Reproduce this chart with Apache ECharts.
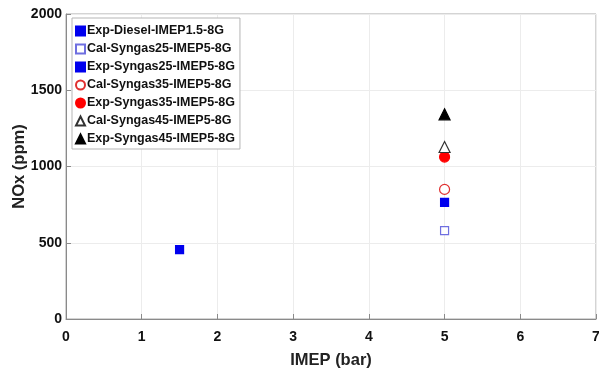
<!DOCTYPE html>
<html>
<head>
<meta charset="utf-8">
<script src="https://cdn.jsdelivr.net/npm/echarts@6/dist/echarts.min.js"></script>
<style>
  html, body { margin: 0; padding: 0; background: #fff; }
  #chart { width: 599px; height: 372px; }
</style>
</head>
<body>
<div id="chart"></div>
<script>
// series names as in the legend
const seriesNames = [
  'Exp-Diesel-IMEP1.5-8G',
  'Cal-Syngas25-IMEP5-8G',
  'Exp-Syngas25-IMEP5-8G',
  'Cal-Syngas35-IMEP5-8G',
  'Exp-Syngas35-IMEP5-8G',
  'Cal-Syngas45-IMEP5-8G',
  'Exp-Syngas45-IMEP5-8G'
];
// IMEP (bar)
const imepValues = [1.5, 5, 5, 5, 5, 5, 5];
// NOx (ppm)
const noxValues = [455, 580, 765, 850, 1062, 1128, 1342];

const xTicks = [0, 1, 2, 3, 4, 5, 6, 7];
const yTicks = [0, 500, 1000, 1500, 2000];

// marker look per series
const markers = [
  { symbol: 'rect', size: 8, fill: '#0000ee', stroke: '#0000ee' },
  { symbol: 'rect', size: 8, fill: '#fff', stroke: '#6f6fe0' },
  { symbol: 'rect', size: 8, fill: '#0000ee', stroke: '#0000ee' },
  { symbol: 'circle', size: 10, fill: '#fff', stroke: '#e03030' },
  { symbol: 'circle', size: 10, fill: '#ff0000', stroke: '#ff0000' },
  { symbol: 'triangle', size: 11, fill: '#fff', stroke: '#333' },
  { symbol: 'triangle', size: 11, fill: '#000', stroke: '#000' }
];

const chart = echarts.init(document.getElementById('chart'));

const font = 'Liberation Sans, Arial';
const axisText = { color: '#111', fontWeight: 'bold', fontSize: 14, fontFamily: font, formatter: v => String(v) };

const option = {
  animation: false,
  grid: {
    left: 66, right: 3, top: 14, bottom: 53,
    outerBoundsMode: 'none',
    show: true, borderColor: '#a8a8a8', borderWidth: 1
  },
  legend: {
    orient: 'vertical',
    left: 72, top: 18,
    data: seriesNames,
    itemWidth: 9, itemHeight: 9,
    itemGap: 4,
    padding: [6, 5, 3, 3],
    backgroundColor: '#fff',
    borderColor: '#b5b5b5', borderWidth: 1,
    textStyle: { color: '#111', fontWeight: 'bold', fontSize: 12.5, lineHeight: 14, padding: [0, 0, 0, -3], fontFamily: font }
  },
  xAxis: {
    type: 'value',
    min: xTicks[0], max: xTicks[xTicks.length - 1], interval: 1,
    name: 'IMEP (bar)', nameLocation: 'middle', nameGap: 33,
    nameMoveOverlap: false,
    nameTextStyle: { color: '#222', fontWeight: 'bold', fontSize: 16.5, fontFamily: font },
    axisLine: { lineStyle: { color: '#8a8a8a' } },
    axisTick: { inside: true, length: 5, lineStyle: { color: '#8a8a8a' } },
    axisLabel: Object.assign({ margin: 11 }, axisText),
    splitLine: { show: true, lineStyle: { color: '#ececec' } }
  },
  yAxis: {
    type: 'value',
    min: yTicks[0], max: yTicks[yTicks.length - 1], interval: 500,
    name: 'NOx (ppm)', nameLocation: 'middle', nameGap: 38,
    nameMoveOverlap: false,
    nameTextStyle: { color: '#222', fontWeight: 'bold', fontSize: 16.5, fontFamily: font },
    axisLine: { show: true, lineStyle: { color: '#8a8a8a' } },
    axisTick: { show: true, inside: true, length: 5, lineStyle: { color: '#8a8a8a' } },
    axisLabel: Object.assign({ margin: 4 }, axisText),
    splitLine: { show: true, lineStyle: { color: '#ececec' } }
  },
  series: seriesNames.map((name, i) => ({
    name: name,
    type: 'scatter',
    symbol: markers[i].symbol,
    symbolSize: markers[i].size,
    itemStyle: { color: markers[i].fill, borderColor: markers[i].stroke, borderWidth: 1.2, opacity: 1 },
    data: [[imepValues[i], noxValues[i]]],
    z: i
  }))
};

chart.setOption(option);
</script>
</body>
</html>
